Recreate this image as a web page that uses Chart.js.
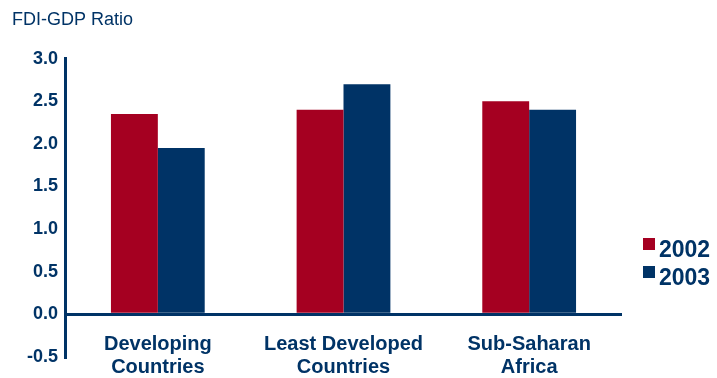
<!DOCTYPE html>
<html>
<head>
<meta charset="utf-8">
<script src="https://cdn.jsdelivr.net/npm/chart.js@4/dist/chart.umd.min.js"></script>
<style>
  html, body { margin: 0; padding: 0; background: #fff; }
  #wrap { width: 717px; height: 378px; }
</style>
</head>
<body>
<div id="wrap"><canvas id="myChart" width="717" height="378"></canvas></div>
<script>
// data
var regions = [['Developing', 'Countries'], ['Least Developed', 'Countries'], ['Sub-Saharan', 'Africa']];
var years = ['2002', '2003'];
var ratio2002 = [2.35, 2.4, 2.5];
var ratio2003 = [1.95, 2.7, 2.4];

var navy = '#003366';
var red = '#A50021';
var font = '"Liberation Sans", Arial, sans-serif';

// category labels sit over the bottom of the plot, legend off to the right
var extras = {
  id: 'extras',
  afterDraw: function(chart) {
    var c = chart.ctx;
    var x = chart.scales.x;
    c.save();
    c.fillStyle = navy;
    c.font = 'bold 20px ' + font;
    c.textAlign = 'center';
    c.textBaseline = 'middle';
    regions.forEach(function(lines, i) {
      var px = x.getPixelForValue(i);
      lines.forEach(function(t, j) {
        c.fillText(t, px, 344 + j * 23);
      });
    });
    // legend
    c.textAlign = 'left';
    c.font = 'bold 23px ' + font;
    chart.data.datasets.forEach(function(ds, i) {
      var y = 250 + i * 28;
      c.fillStyle = ds.backgroundColor;
      c.fillRect(643, y - 12, 12, 12);
      c.fillStyle = navy;
      c.fillText(ds.label, 659, y + 1);
    });
    c.restore();
  }
};

var ctx = document.getElementById('myChart').getContext('2d');
var myChart = new Chart(ctx, {
  type: 'bar',
  data: {
    labels: regions,
    datasets: [
      { label: years[0], data: ratio2002, backgroundColor: red },
      { label: years[1], data: ratio2003, backgroundColor: navy }
    ]
  },
  options: {
    responsive: false,
    animation: false,
    datasets: {
      bar: { categoryPercentage: 0.505, barPercentage: 1, borderWidth: 0 }
    },
    layout: {
      padding: { left: 12, right: 95, top: 0, bottom: 21 }
    },
    scales: {
      x: {
        display: false
      },
      y: {
        min: -0.5,
        max: 3.0,
        afterFit: function(s) { s.width = 53; },
        ticks: {
          stepSize: 0.5,
          padding: 7,
          color: navy,
          font: { family: font, size: 18, weight: 'bold' },
          callback: function(v) { return v.toFixed(1); }
        },
        border: { display: true, color: navy, width: 3 },
        grid: {
          drawTicks: false,
          lineWidth: 3,
          color: function(c) { return c.tick && c.tick.value === 0 ? navy : 'rgba(0,0,0,0)'; }
        }
      }
    },
    plugins: {
      legend: { display: false },
      tooltip: { enabled: false },
      title: {
        display: true,
        text: 'FDI-GDP Ratio',
        align: 'start',
        color: navy,
        font: { family: font, size: 18, weight: 'normal' },
        padding: { top: 9, bottom: 28 }
      }
    }
  },
  plugins: [extras]
});
</script>
</body>
</html>
